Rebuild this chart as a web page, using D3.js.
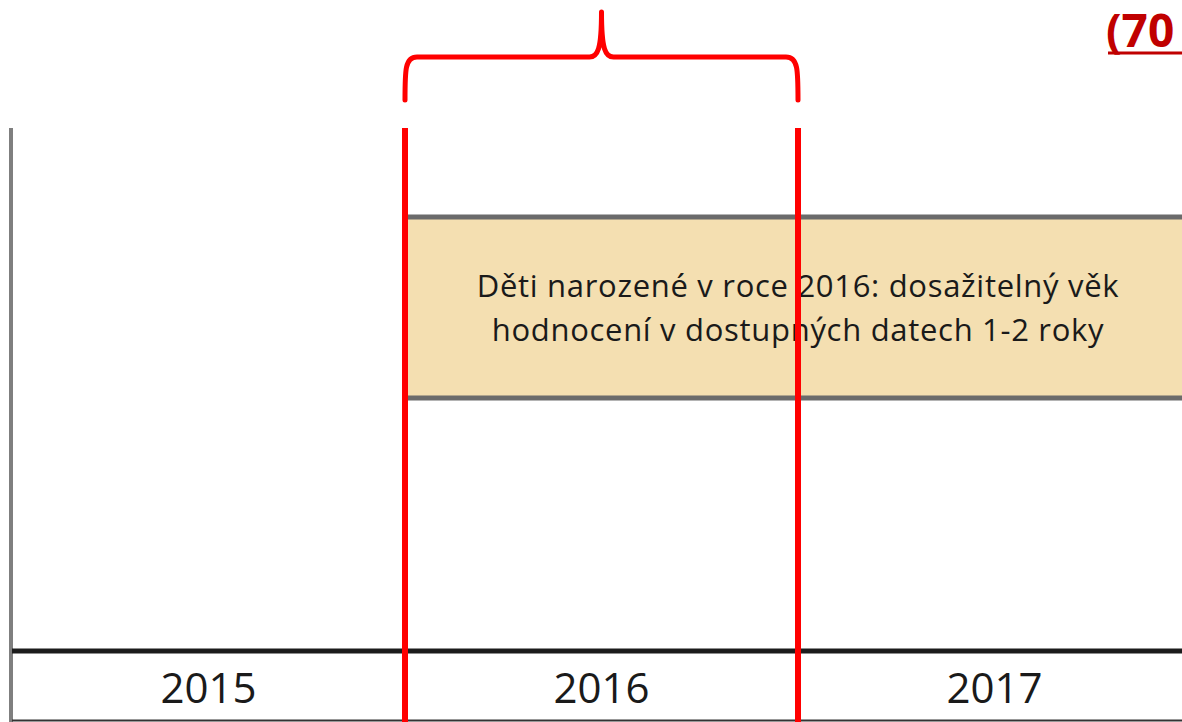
<!DOCTYPE html>
<html>
<head>
<meta charset="utf-8">
<script src="https://cdn.jsdelivr.net/npm/d3@7.9.0/dist/d3.min.js"></script>
<style>
  html, body { margin: 0; padding: 0; background: #fff; overflow: hidden; }
  svg { display: block; }
</style>
</head>
<body>
<svg id="chart" width="1182" height="722"></svg>
<script>
// timeline data
const years = [2015, 2016, 2017];
const barStart = [2016];
const barEnd = [2018];
const barLines = ['Děti narozené v roce 2016: dosažitelný věk', 'hodnocení v dostupných datech 1-2 roky'];
const markerYears = [2016, 2017];
const cornerText = ['(70'];

const svg = d3.select('#chart');
const width = 1182, height = 722;

const x = d3.scaleLinear().domain([2015, 2018]).range([12, 1191]);
const axisY = 651;
const topY = 128;

// bar (gray top/bottom borders, beige fill)
const bar = svg.append('g');
bar.append('rect')
    .attr('x', x(barStart[0]))
    .attr('y', 217)
    .attr('width', x(barEnd[0]) - x(barStart[0]))
    .attr('height', 181)
    .attr('fill', '#f4dfb1');
[217, 398].forEach((yy) => {
    bar.append('line')
        .attr('x1', x(barStart[0])).attr('x2', x(barEnd[0]))
        .attr('y1', yy).attr('y2', yy)
        .attr('stroke', '#6b6b6b').attr('stroke-width', 5);
});
const mid = (x(barStart[0]) + x(barEnd[0])) / 2;
bar.selectAll('text.lbl')
    .data(barLines)
    .enter()
    .append('text')
    .attr('class', 'lbl')
    .attr('x', mid)
    .attr('y', (_, i) => 297 + i * 44)
    .attr('text-anchor', 'middle')
    .attr('font-family', 'Open Sans, sans-serif')
    .attr('font-size', 31)
    .attr('letter-spacing', 0.7)
    .attr('fill', '#1a1a1a')
    .text((d) => d);

// left vertical axis
svg.append('line')
    .attr('x1', 11).attr('x2', 11)
    .attr('y1', topY).attr('y2', height)
    .attr('stroke', '#7f7f7f').attr('stroke-width', 4);

// year band below the axis
svg.append('line')
    .attr('x1', x(2015)).attr('x2', width)
    .attr('y1', axisY).attr('y2', axisY)
    .attr('stroke', '#1c1c1c').attr('stroke-width', 5);
svg.append('line')
    .attr('x1', x(2015)).attr('x2', width)
    .attr('y1', 720.5).attr('y2', 720.5)
    .attr('stroke', '#333').attr('stroke-width', 2);

svg.selectAll('text.year')
    .data(years)
    .enter()
    .append('text')
    .attr('class', 'year')
    .attr('x', (d) => (x(d) + x(d + 1)) / 2)
    .attr('y', 703)
    .attr('text-anchor', 'middle')
    .attr('font-family', 'Open Sans, sans-serif')
    .attr('font-size', 42)
    .attr('fill', '#1a1a1a')
    .text((d) => d);

// red markers
svg.selectAll('line.marker')
    .data(markerYears)
    .enter()
    .append('line')
    .attr('class', 'marker')
    .attr('x1', (d) => x(d)).attr('x2', (d) => x(d))
    .attr('y1', topY).attr('y2', height)
    .attr('stroke', '#ff0000').attr('stroke-width', 6);

// curly brace over the marked year
const bx0 = x(markerYears[0]), bx1 = x(markerYears[1]);
const bm = (bx0 + bx1) / 2;
const p = d3.path();
p.moveTo(bx0, 100);
p.bezierCurveTo(bx0, 70, bx0, 57, bx0 + 12, 57);
p.lineTo(bm - 12, 57);
p.bezierCurveTo(bm - 4, 57, bm, 50, bm, 12);
p.moveTo(bm, 12);
p.bezierCurveTo(bm, 50, bm + 4, 57, bm + 12, 57);
p.lineTo(bx1 - 12, 57);
p.bezierCurveTo(bx1, 57, bx1, 70, bx1, 100);
svg.append('path')
    .attr('d', p.toString())
    .attr('fill', 'none')
    .attr('stroke', '#ff0000')
    .attr('stroke-width', 5)
    .attr('stroke-linecap', 'round');

// corner label (cut off at the edge, as in the source slide)
svg.append('text')
    .attr('x', 1106)
    .attr('y', 47)
    .attr('font-family', 'Open Sans, sans-serif')
    .attr('font-weight', 'bold')
    .attr('font-size', 46)
    .attr('fill', '#c00000')
    .text(cornerText[0]);
svg.append('line')
    .attr('x1', 1108).attr('x2', width)
    .attr('y1', 53).attr('y2', 53)
    .attr('stroke', '#c00000').attr('stroke-width', 3);
</script>
</body>
</html>
